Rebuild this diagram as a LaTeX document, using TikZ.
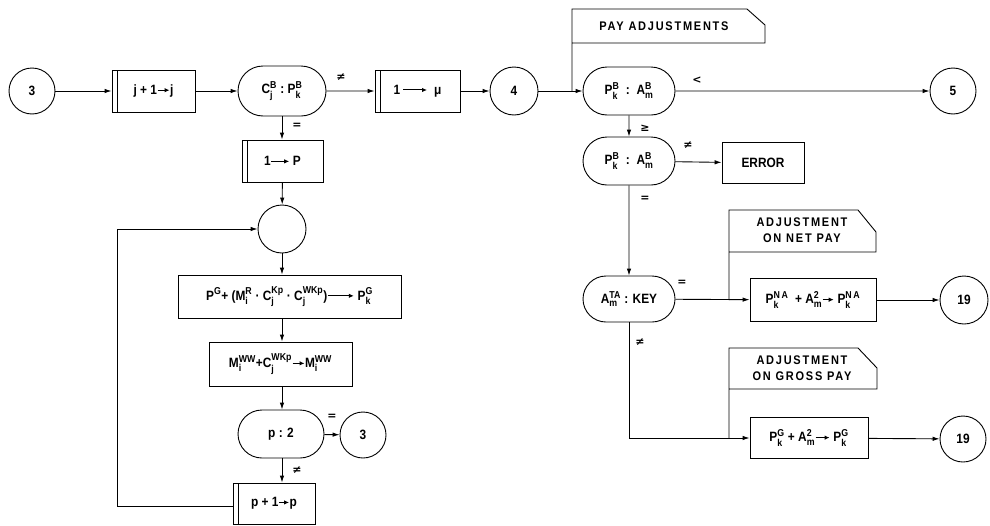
\documentclass[tikz,border=0pt]{standalone}
\usepackage{fontspec}
\usepackage{amsmath}
\setmainfont{Liberation Sans}[FakeStretch=0.88]
\newfontfamily\symfont{DejaVu Sans}
\newfontfamily\flagfont{Liberation Sans}[FakeStretch=0.88,LetterSpace=14]
\usetikzlibrary{arrows.meta,shapes.misc}
\DeclareMathSizes{13.5}{13.5}{10}{8}

% letter with stacked superscript / subscript
\newcommand\sx[3]{#1$^{\text{#2}}_{\text{#3}}$}
\newcommand\su[2]{#1$^{\text{#2}}$}
\newcommand\md{\ ·\ }
% small transfer arrow used inside the boxes
\newcommand\tarrow[1][15pt]{\tikz[x=1pt,y=1pt,baseline=-0.6ex]\draw[line width=1pt,-{Latex[length=5pt,width=4.5pt]}] (0pt,0pt) -- (#1,0pt);}

\tikzset{
  flow/.style={line width=0.9pt},
  arr/.style={flow,-{Latex[length=7pt,width=4.5pt]}},
  txt/.style={font=\bfseries\fontsize{13.5}{15}\selectfont},
  sz/.style 2 args={minimum width=#1pt,minimum height=#2pt},
  box/.style={txt,draw,line width=0.9pt,rectangle,inner sep=0pt},
  dbox/.style={box,path picture={\draw[line width=0.9pt]
      ([xshift=5pt]path picture bounding box.north west) --
      ([xshift=5pt]path picture bounding box.south west);}},
  oval/.style={txt,draw,line width=0.9pt,rounded rectangle,inner sep=0pt},
  conn/.style={txt,draw,circle,line width=0.9pt,minimum size=46pt,inner sep=0pt},
  lbl/.style={font=\symfont\bfseries\fontsize{11}{13}\selectfont,inner sep=0pt},
  flag/.style={font=\flagfont\bfseries\fontsize{12.5}{16}\selectfont,align=center,inner sep=0pt}
}

\begin{document}
\begin{tikzpicture}[x=1pt,y=-1pt]
\useasboundingbox (0,0) rectangle (990,525);

% ---- main line
\node[conn] (s3) at (32,91) {3};
\node[dbox,sz={83}{42}] (jinc) at (153.5,91) {j + 1\tarrow[12pt]j};
\node[oval,sz={88}{50}] (cmp) at (282,91) {\sx{C}{B}{j}\ :\ \sx{P}{B}{k}};
\node[dbox,sz={85}{42}] (mu) at (417.5,91) {1\,\tarrow[24pt]\ \ μ};
\node[conn,minimum size=48pt] (s4) at (514,91) {4};
\node[oval,sz={92}{48}] (pa) at (629,91) {\sx{P}{B}{k}\ \ :\ \ \sx{A}{B}{m}};
\node[conn] (s5) at (953,91) {5};

% ---- pay adjustments
\node[oval,sz={92}{48}] (pb) at (629,161) {\sx{P}{B}{k}\ \ :\ \ \sx{A}{B}{m}};
\node[box,sz={82}{41}] (err) at (763,163) {ERROR};
\node[oval,sz={92}{46}] (key) at (629,299) {\sx{A}{TA}{m} : KEY};
\node[box,sz={126}{43}] (na) at (813,300) {\sx{P}{N\,A}{k}\ \ + \sx{A}{2}{m}\tarrow[11pt]\ \sx{P}{N\,A}{k}};
\node[conn,minimum size=48pt] (n19a) at (964,300) {19};
\node[box,sz={118}{41}] (gr) at (809,438) {\sx{P}{G}{k} + \sx{A}{2}{m}\tarrow[14pt]\ \sx{P}{G}{k}};
\node[conn] (n19b) at (963,439) {19};

% ---- accumulation loop
\node[dbox,sz={81}{42}] (pone) at (282.5,161) {1\tarrow[18pt]\ P};
\node[conn,minimum size=48pt] (join) at (282,229) {};
\node[box,sz={223}{43}] (acc) at (289.5,296.5)
  {\su{P}{G}+ (\sx{M}{R}{i}\md\sx{C}{Kp}{j}\md\sx{C}{WKp}{j})\tarrow[26pt] \sx{P}{G}{k}};
\node[box,sz={143}{44}] (ww) at (280.5,364) {\sx{M}{WW}{i}+\sx{C}{WKp}{j}\tarrow[12pt]\sx{M}{WW}{i}};
\node[oval,sz={86}{48}] (pt) at (281,434) {p : 2};
\node[conn] (s3b) at (363,435) {3};
\node[dbox,sz={82}{41}] (pinc) at (274,503.5) {p + 1\tarrow[10pt]p};
\coordinate (lc) at (117,506);

% ---- annotation flags
\coordinate (pj) at (572,91);
\draw[flow] (pj) -- (572,9) -- (747,9) -- (765,25) -- (765,43) -- (572,43);
\node[flag] (fpay) at (664,26) {PAY ADJUSTMENTS};

\coordinate (nj) at (729,300);
\draw[flow] (nj) -- (729,210) -- (858,210) -- (876,232) -- (876,252) -- (729,252);
\node[flag] (fnet) at (802,230) {ADJUSTMENT\\ON NET PAY};

\coordinate (gj) at (729,438);
\draw[flow] (gj) -- (729,348) -- (858,348) -- (877,368) -- (877,389) -- (729,389);
\node[flag] (fgross) at (802,368) {ADJUSTMENT\\ON GROSS PAY};

% ---- connectors
\draw[arr] (s3) -- (jinc);
\draw[arr] (jinc) -- (cmp);
\draw[arr] (cmp) -- (mu);
\draw[arr] (mu) -- (s4);
\draw[arr] (s4) -- (pa);
\draw[arr] (pa) -- (s5);
\draw[arr] (pa) -- (pb);
\draw[arr] (pb) -- (err);
\draw[arr] (pb) -- (key);
\draw[arr] (key) -- (na);
\draw[arr] (na) -- (n19a);
\draw[arr] (key.south) |- (gr.west);
\draw[arr] (gr) -- (n19b);

\draw[arr] (cmp.south) -- (cmp.south |- pone.north);
\draw[arr] (pone) -- (join);
\draw[arr] (join) -- (join |- acc.north);
\draw[arr] (join |- acc.south) -- (join |- ww.north);
\draw[arr] (join |- ww.south) -- (join |- pt.north);
\draw[arr] (pt) -- (s3b);
\draw[arr] (join |- pt.south) -- (join |- pinc.north);
\draw[arr] (pinc.west |- lc) -- (lc) |- (join.west);

% ---- branch labels
\node[lbl] at (341,77) {≠};
\node[lbl] at (297,126) {=};
\node[lbl] at (697,80) {<};
\node[lbl] at (645,128) {≥};
\node[lbl] at (688,145) {≠};
\node[lbl] at (645,199) {=};
\node[lbl] at (682,283) {=};
\node[lbl] at (640,342) {≠};
\node[lbl] at (332,417) {=};
\node[lbl] at (297,470) {≠};
\end{tikzpicture}
\end{document}
